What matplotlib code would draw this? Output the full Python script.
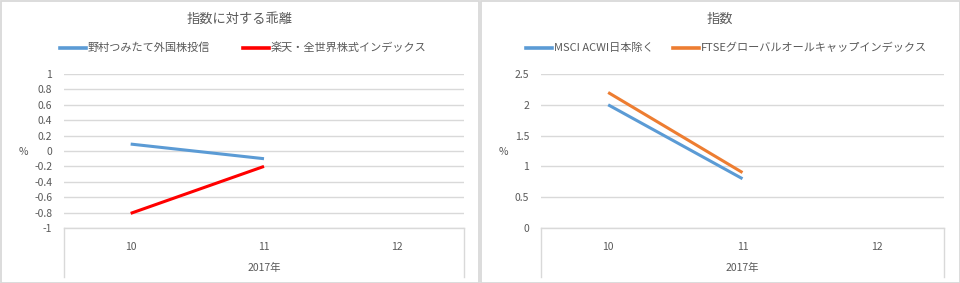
import matplotlib
matplotlib.use("Agg")
import matplotlib.pyplot as plt
from matplotlib.lines import Line2D
from matplotlib.patches import Rectangle

plt.rcParams['font.family'] = ['Noto Sans CJK JP', 'DejaVu Sans']

categories = ["10", "11", "12"]
year_label = "2017年"

left_title = "指数に対する乖離"
left_names = ["野村つみたて外国株投信", "楽天・全世界株式インデックス"]
left_values = [[0.09, -0.1], [-0.81, -0.2]]
left_colors = ["#5B9BD5", "#FF0000"]
left_yticks = [-1, -0.8, -0.6, -0.4, -0.2, 0, 0.2, 0.4, 0.6, 0.8, 1]

right_title = "指数"
right_names = ["MSCI ACWI日本除く", "FTSEグローバルオールキャップインデックス"]
right_values = [[2.0, 0.8], [2.2, 0.9]]
right_colors = ["#5B9BD5", "#ED7D31"]
right_yticks = [0, 0.5, 1, 1.5, 2, 2.5]

W, H = 960, 283
fig = plt.figure(figsize=(W / 100, H / 100), dpi=100)
TXT = "#595959"
GRID = "#D9D9D9"

def fx(px):
    return px / W

def fy(py):
    return 1 - py / H

# panel borders
for (x0, x1) in [(0.5, 479), (481, 959.5)]:
    fig.patches.append(Rectangle((fx(x0), fy(282.5)), fx(x1 - x0), (282 - 0.5) / H,
                                 transform=fig.transFigure, fill=False,
                                 edgecolor=GRID, linewidth=1.3))

def panel(x_left, x_right, title, names, values, colors, yticks, ylabel_x,
          title_x, legend_items):
    top, bottom = 74, 228
    ax = fig.add_axes([fx(x_left), fy(bottom), fx(x_right - x_left), (bottom - top) / H])
    xs = list(range(len(categories)))
    for name, vals, c in zip(names, values, colors):
        ax.plot(xs[:len(vals)], vals, color=c, linewidth=2.2, solid_capstyle='butt', label=name)
    ax.set_xlim(-0.5, len(categories) - 0.5)
    ax.set_ylim(yticks[0], yticks[-1])
    ax.set_yticks(yticks)
    ax.set_yticklabels([("%g" % t) for t in yticks], color=TXT, fontsize=7.5)
    ax.set_xticks(xs)
    ax.set_xticklabels(categories, color=TXT, fontsize=7.5)
    ax.tick_params(axis='both', length=0)
    ax.tick_params(axis='y', pad=8.5)
    ax.tick_params(axis='x', pad=10)
    ax.grid(axis='y', color=GRID, linewidth=1)
    ax.set_axisbelow(True)
    for s in ['top', 'right', 'left']:
        ax.spines[s].set_visible(False)
    ax.spines['bottom'].set_color(GRID)
    ax.spines['bottom'].set_linewidth(1)
    # category box side lines
    for xx in [0, 1]:
        ax.add_line(Line2D([xx, xx], [0, -(277 - 228) / (bottom - top)],
                           transform=ax.transAxes, color=GRID, linewidth=1, clip_on=False))
    ax.text(0.5, -(268 - 228) / (bottom - top), year_label, transform=ax.transAxes,
            ha='center', va='center', color=TXT, fontsize=7.5)
    fig.text(fx(ylabel_x), fy(152), "%", ha='center', va='center', color=TXT, fontsize=7.5)
    fig.text(fx(title_x), fy(19), title, ha='center', va='center', color=TXT, fontsize=9.5)
    for (lx, c, name) in legend_items:
        fig.add_artist(Line2D([fx(lx), fx(lx + 26)], [fy(48), fy(48)], color=c,
                              linewidth=2.6, transform=fig.transFigure))
        fig.text(fx(lx + 28), fy(48), name, ha='left', va='center', color=TXT, fontsize=8)
    return ax

panel(64, 464, left_title, left_names, left_values, left_colors, left_yticks, 23, 240,
      [(60, left_colors[0], left_names[0]), (243, left_colors[1], left_names[1])])
panel(541, 944, right_title, right_names, right_values, right_colors, right_yticks, 503, 720,
      [(526, right_colors[0], right_names[0]), (673, right_colors[1], right_names[1])])

fig.savefig("out.png", dpi=100)
